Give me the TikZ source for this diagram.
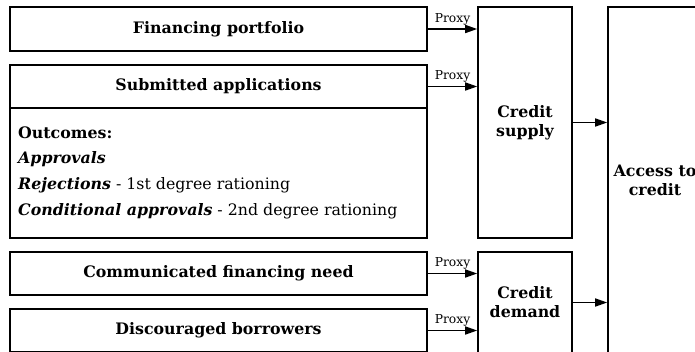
\documentclass[tikz,border=0pt]{standalone}
\usepackage{fontspec}
\setmainfont{DejaVu Serif}
\usetikzlibrary{arrows.meta}
\begin{document}
\begin{tikzpicture}[x=1pt,y=-1pt,
  box/.style={draw,line width=1.6pt,rectangle,inner sep=0pt},
  head/.style={font=\fontsize{15.8}{19}\selectfont\bfseries},
  body/.style={anchor=west,inner sep=0pt,font=\fontsize{15.8}{19}\selectfont},
  arr/.style={line width=1.6pt,-{Triangle[length=12pt,width=8pt]}},
  proxy/.style={font=\fontsize{12.3}{14}\selectfont,above=3pt,inner sep=0pt}]
\useasboundingbox (0,0) rectangle (695,351);
\clip (0,0) rectangle (695,351);
% left column
\node[box,head,minimum width=417pt,minimum height=44pt] (fp) at (218.5,29) {Financing portfolio};
\node[box,head,minimum width=417pt,minimum height=43pt] (sa) at (218.5,86.5) {Submitted applications};
\node[box,minimum width=417pt,minimum height=130pt] (so) at (218.5,173) {};
\node[body] (o1) at (18,133) {\bfseries Outcomes:};
\node[body] (o2) at (18,159) {\bfseries\itshape Approvals};
\node[body] (o3) at (18,185) {\textbf{\textit{Rejections}} - 1st degree rationing};
\node[body] (o4) at (18,211) {\textbf{\textit{Conditional approvals}} - 2nd degree rationing};
\node[box,head,minimum width=417pt,minimum height=43pt] (cfn) at (218.5,273.5) {Communicated financing need};
\node[box,head,minimum width=417pt,minimum height=43pt] (db) at (218.5,330.5) {Discouraged borrowers};
% middle column
\node[box,head,align=center,minimum width=94pt,minimum height=231pt] (cs) at (525,122.5) {Credit\\supply};
\node[box,head,align=center,minimum width=94pt,minimum height=101pt] (cd) at (525,302.5) {Credit\\demand};
% right column
\node[box,head,align=center,minimum width=94pt,minimum height=346pt] (ac) at (655,180) {Access to\\credit};
% connectors
\draw[arr] (fp.east) -- (fp.east -| cs.west) node[midway,proxy] {Proxy};
\draw[arr] (sa.east) -- (sa.east -| cs.west) node[midway,proxy] {Proxy};
\draw[arr] (cfn.east) -- (cfn.east -| cd.west) node[midway,proxy] {Proxy};
\draw[arr] (db.east) -- (db.east -| cd.west) node[midway,proxy] {Proxy};
\draw[arr] (cs.east) -- (cs.east -| ac.west);
\draw[arr] (cd.east) -- (cd.east -| ac.west);
\end{tikzpicture}
\end{document}
